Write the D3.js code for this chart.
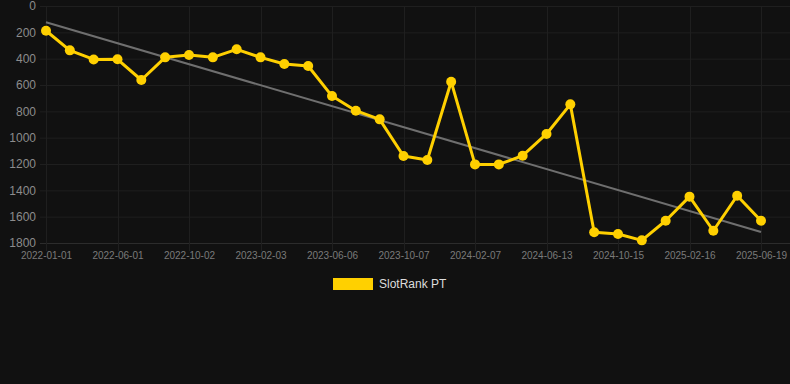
<!DOCTYPE html>
<html>
<head>
<meta charset="utf-8">
<script src="https://cdn.jsdelivr.net/npm/d3@7"></script>
<style>
  html, body { margin: 0; padding: 0; background: #111111; }
  svg { display: block; }
</style>
</head>
<body>
<svg id="chart" width="790" height="384"></svg>
<script>
const dates = [
  "2022-01-01","2022-02-20","2022-04-11","2022-06-01","2022-07-12","2022-08-22",
  "2022-10-02","2022-11-12","2022-12-24","2023-02-03","2023-03-16","2023-04-26",
  "2023-06-06","2023-07-17","2023-08-27","2023-10-07","2023-11-17","2023-12-28",
  "2024-02-07","2024-03-20","2024-05-02","2024-06-13","2024-07-24","2024-09-03",
  "2024-10-15","2024-11-25","2025-01-05","2025-02-16","2025-03-29","2025-05-09",
  "2025-06-19"
];
const ranks = [
  188, 337, 406, 405, 562, 390, 372, 390, 329, 390, 440, 456,
  684, 795, 861, 1139, 1170, 575, 1203, 1203, 1137, 972, 747, 1719,
  1732, 1780, 1631, 1448, 1707, 1441, 1631
];
const trendEnds = [124, 1716];
const yTicks = [0, 200, 400, 600, 800, 1000, 1200, 1400, 1600, 1800];
const xTickLabels = ["2022-01-01","2022-06-01","2022-10-02","2023-02-03","2023-06-06",
  "2023-10-07","2024-02-07","2024-06-13","2024-10-15","2025-02-16","2025-06-19"];
const seriesName = "SlotRank PT";

const svg = d3.select("#chart");
const W = 790;
const plot = { left: 46, right: 761, top: 6, bottom: 243 };

const x = d3.scalePoint().domain(dates).range([plot.left, plot.right]);
const y = d3.scaleLinear().domain([0, 1800]).range([plot.top, plot.bottom]);

// horizontal grid
svg.append("g").selectAll("line").data(yTicks).join("line")
  .attr("x1", 40).attr("x2", W)
  .attr("y1", d => y(d) + 0.5).attr("y2", d => y(d) + 0.5)
  .attr("stroke", d => d === 1800 ? "#2c2c2c" : "#1f1f1f")
  .attr("stroke-width", 1);

// vertical grid
svg.append("g").selectAll("line").data(xTickLabels).join("line")
  .attr("x1", d => Math.round(x(d)) + 0.5).attr("x2", d => Math.round(x(d)) + 0.5)
  .attr("y1", plot.top).attr("y2", plot.bottom + 8)
  .attr("stroke", "#1f1f1f").attr("stroke-width", 1);

// y axis labels
const yAxis = d3.axisLeft(y).tickValues(yTicks).tickFormat(d3.format("d")).tickSize(0).tickPadding(0);
const gy = svg.append("g").attr("transform", "translate(36,0)").call(yAxis);
gy.select(".domain").remove();
gy.selectAll("text")
  .attr("fill", "#8c8c8c")
  .style("font-family", "'Liberation Sans', Arial, sans-serif")
  .style("font-size", "12px");

// x axis labels
const xAxis = d3.axisBottom(x).tickValues(xTickLabels).tickSize(0).tickPadding(0);
const gx = svg.append("g").attr("transform", "translate(0,252)").call(xAxis);
gx.select(".domain").remove();
gx.selectAll("text")
  .attr("fill", "#7a7a7a")
  .style("font-family", "'Liberation Sans', Arial, sans-serif")
  .style("font-size", "10px");

// trend line
svg.append("line")
  .attr("x1", x(dates[0])).attr("y1", y(trendEnds[0]))
  .attr("x2", x(dates[dates.length - 1])).attr("y2", y(trendEnds[1]))
  .attr("stroke", "#6f6f6f").attr("stroke-width", 2);

// series line
const data = dates.map((d, i) => ({ d, v: ranks[i] }));
svg.append("path").datum(data)
  .attr("fill", "none").attr("stroke", "#FFD000").attr("stroke-width", 3)
  .attr("stroke-linejoin", "round")
  .attr("d", d3.line().x(p => x(p.d)).y(p => y(p.v)));

svg.append("g").selectAll("circle").data(data).join("circle")
  .attr("cx", p => x(p.d)).attr("cy", p => y(p.v)).attr("r", 5)
  .attr("fill", "#FFD000");

// legend
const lg = svg.append("g");
lg.append("rect").attr("x", 333).attr("y", 278).attr("width", 40).attr("height", 12)
  .attr("fill", "#FFD000");
lg.append("text").attr("x", 379).attr("y", 284).attr("dy", "0.35em")
  .attr("fill", "#dddddd")
  .style("font-family", "'Liberation Sans', Arial, sans-serif")
  .style("font-size", "12px")
  .text(seriesName);
</script>
</body>
</html>
